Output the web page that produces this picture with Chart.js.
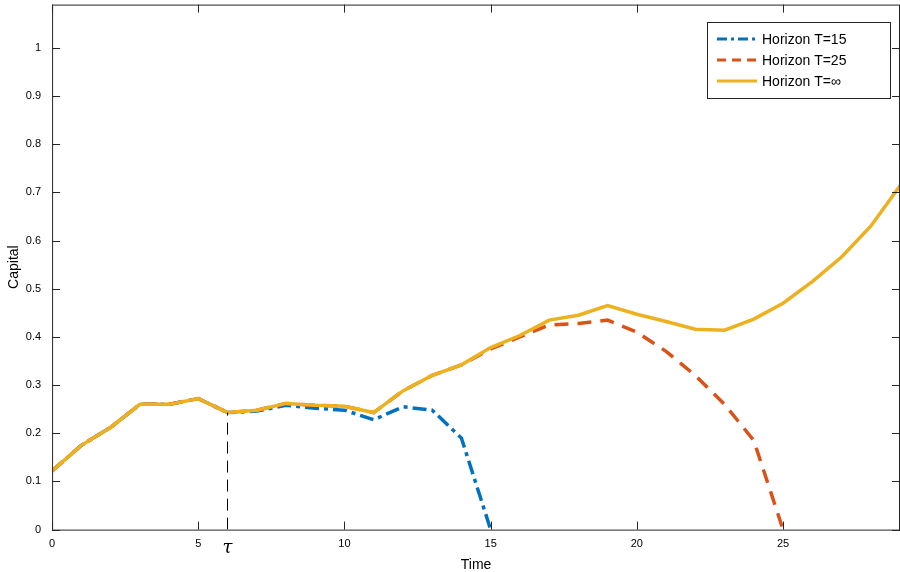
<!DOCTYPE html>
<html><head><script src="https://cdn.jsdelivr.net/npm/chart.js@4/dist/chart.umd.min.js"></script>
<style>body{margin:0;background:#fff;overflow:hidden}#w{width:900px;height:577px;margin-top:-5px}</style></head>
<body><div id="w"><canvas id="c"></canvas></div>
<script>
const time = [0,1,2,3,4,5,6,7,8,9,10,11,12,13,14,15,16,17,18,19,20,21,22,23,24,25,26,27,28,29];
const capInf = [0.122,0.175,0.212,0.26,0.26,0.272,0.243,0.248,0.262,0.258,0.256,0.243,0.288,0.32,0.342,0.378,0.403,0.435,0.445,0.465,0.447,0.432,0.416,0.414,0.437,0.47,0.515,0.566,0.63,0.714];
const cap25 = [0.122,0.175,0.212,0.26,0.26,0.272,0.243,0.248,0.262,0.258,0.256,0.243,0.288,0.32,0.342,0.375,0.40,0.425,0.428,0.435,0.41,0.37,0.32,0.26,0.185,0];
const cap15 = [0.122,0.175,0.212,0.26,0.26,0.272,0.243,0.246,0.258,0.252,0.248,0.228,0.255,0.248,0.19,0];
const tauTime = 6;
const tauValue = 0.243;
const xTicks = [0,5,6,10,15,20,25];
const yTicks = [0,0.1,0.2,0.3,0.4,0.5,0.6,0.7,0.8,0.9,1];
const labels = ['Horizon T=15','Horizon T=25','Horizon T=∞'];
const colors = ['#0072BD','#D95319','#EDB120'];
const pts = a => a.map((v,i)=>({x:time[i],y:v}));
const boxPlugin = {id:'box',afterDraw(ch){
  const c=ch.ctx,a=ch.chartArea,xs=ch.scales.x,ys=ch.scales.y;
  c.save();c.strokeStyle='#262626';c.lineWidth=1;
  c.strokeRect(a.left+0.5,a.top+0.5,a.right-a.left-1,a.bottom-a.top);
  c.beginPath();
  xTicks.filter(t=>t!==tauTime).forEach(t=>{const x=Math.round(xs.getPixelForValue(t))+0.5;c.moveTo(x,a.bottom);c.lineTo(x,a.bottom-8);c.moveTo(x,a.top);c.lineTo(x,a.top+8);});
  yTicks.forEach(t=>{const y=Math.round(ys.getPixelForValue(t))+0.5;c.moveTo(a.left,y);c.lineTo(a.left+8,y);c.moveTo(a.right,y);c.lineTo(a.right-8,y);});
  c.stroke();
  const lx=707,ly=27,lw=183,lh=76;
  c.fillStyle='#fff';c.fillRect(lx,ly,lw,lh);c.strokeRect(lx+0.5,ly+0.5,lw,lh);
  const dashes=[[10,4,3,4],[9,6],[]];
  labels.forEach((l,i)=>{const y=ly+17+i*21;c.strokeStyle=colors[i];c.lineWidth=3;c.setLineDash(dashes[i]);
    c.beginPath();c.moveTo(lx+10,y);c.lineTo(lx+50,y);c.stroke();c.setLineDash([]);
    c.fillStyle='#000';c.font='14px "Liberation Sans", Arial';c.textBaseline='middle';c.fillText(l,lx+55,y+1);});
  c.restore();
}};
new Chart(document.getElementById('c'),{type:'line',
 data:{datasets:[
  {label:'tau',data:[{x:tauTime,y:0},{x:tauTime,y:tauValue}],borderColor:'#000',borderWidth:1,borderDash:[12,7],pointRadius:0},
  {label:labels[2],data:pts(capInf),borderColor:colors[2],borderWidth:3.5,pointRadius:0},
  {label:labels[1],data:pts(cap25),borderColor:colors[1],borderWidth:3.5,borderDash:[14,9],pointRadius:0},
  {label:labels[0],data:pts(cap15),borderColor:colors[0],borderWidth:3.5,borderDash:[14,5,4,5],pointRadius:0}
 ]},
 options:{responsive:true,maintainAspectRatio:false,animation:false,
  layout:{padding:{top:0,right:0,left:6,bottom:-2}},
  plugins:{legend:{display:false},tooltip:{enabled:false}},
  scales:{
   x:{type:'linear',min:0,max:29,border:{display:false},grid:{display:false},
     afterBuildTicks:s=>{s.ticks=xTicks.map(v=>({value:v}));},
     ticks:{autoSkip:false,maxRotation:0,padding:0,color:'#000',
       callback:v=>v===tauTime?'τ':String(v),
       font:ctx=>ctx.tick&&ctx.tick.value===tauTime?{family:'DejaVu Serif',size:18,style:'italic'}:{family:'Liberation Sans',size:11}},
     title:{display:true,text:'Time',color:'#000',font:{family:'Liberation Sans',size:14},padding:{top:-2,bottom:0}}},
   y:{min:0,max:1.09,border:{display:false},grid:{display:false},
     afterBuildTicks:s=>{s.ticks=yTicks.map(v=>({value:v}));},
     ticks:{color:'#000',padding:3,font:{family:'Liberation Sans',size:11},callback:v=>String(+v.toFixed(1))},
     title:{display:true,text:'Capital',color:'#000',font:{family:'Liberation Sans',size:14},padding:{bottom:0,top:0}}}
  }},
 plugins:[boxPlugin]});
</script></body></html>
